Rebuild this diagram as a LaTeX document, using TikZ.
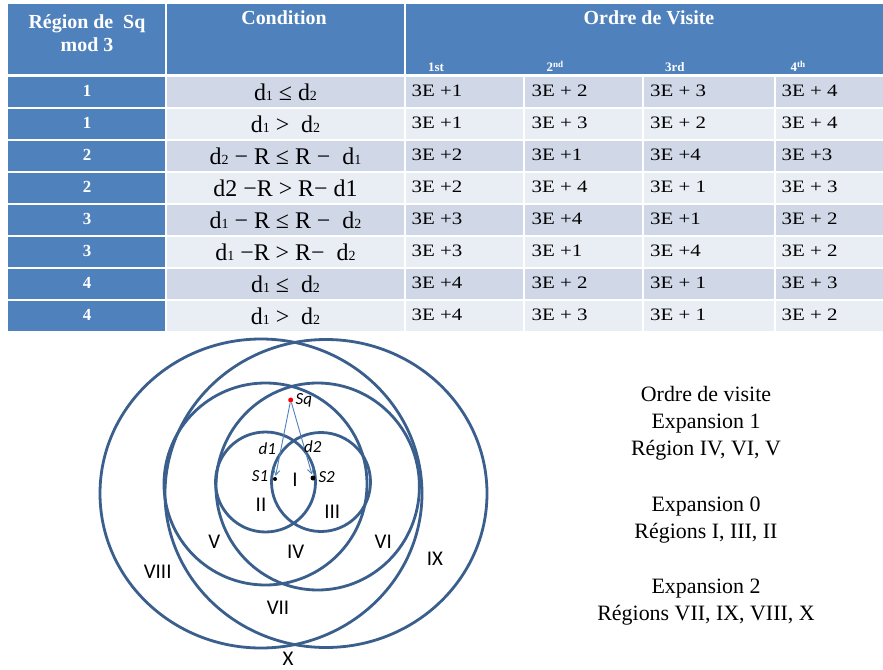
\documentclass[tikz,border=0pt]{standalone}
\usepackage{fontspec}
\setmainfont{Liberation Serif}
\newfontfamily\calib{Carlito}
\newfontfamily\numfont[FakeStretch=1.2]{Liberation Serif}
\usetikzlibrary{arrows.meta}

\definecolor{hdrblue}{HTML}{4F81BD}
\definecolor{rowdark}{HTML}{D0D8E8}
\definecolor{rowlight}{HTML}{E9EDF4}
\definecolor{ringblue}{HTML}{3A5F8C}
\definecolor{arrowblue}{HTML}{4F81BD}

\newcommand{\fs}[1]{\fontsize{#1}{#1}\selectfont}
% small index digit used in the conditions (d1, d2)
\newcommand{\ix}[1]{{\fs{14}#1}}

\tikzset{
  hdrtxt/.style={text=white, font=\fs{20}\bfseries, inner sep=0pt},
  subhdr/.style={text=white, font=\fs{13}\bfseries, inner sep=0pt, anchor=base west},
  regtxt/.style={text=white, font=\fs{17}\bfseries, inner sep=0pt, anchor=base},
  condtxt/.style={font=\fs{24}, inner sep=0pt, anchor=base},
  numtxt/.style={font=\numfont\fs{17.5}, inner sep=0pt, anchor=base west},
  sidetxt/.style={font=\fs{22}, inner sep=0pt, anchor=base},
  ring/.style={draw=ringblue, line width=2.8bp},
  roman/.style={font=\calib\fs{21}, inner sep=0pt},
  itlabel/.style={font=\calib\itshape\fs{17}, inner sep=0pt},
  pointdot/.style={circle, fill=#1, inner sep=0pt, minimum size=5bp},
  dist/.style={draw=arrowblue, line width=0.9bp, -{Straight Barb[length=5bp,width=6bp]}, shorten >=1bp}
}

\begin{document}
\begin{tikzpicture}[x=1bp, y=-1bp]
\useasboundingbox (0,0) rectangle (883,670);
\fill[white] (0,0) rectangle (883,670);

% ---------- table header ----------
\fill[hdrblue] (8,4) rectangle (165,74);
\fill[hdrblue] (167,4) rectangle (404,74);
\fill[hdrblue] (406,4) rectangle (883,74);
\node[hdrtxt, anchor=base] (hreg1) at (87,28.3) {Région de~~Sq};
\node[hdrtxt, anchor=base] (hreg2) at (87,51.5) {mod 3};
\node[hdrtxt, anchor=base] (hcond) at (284,25) {Condition};
\node[hdrtxt, anchor=base] (hordre) at (649,25) {Ordre de Visite};
\node[subhdr] (h1) at (428,72) {1st};
\node[subhdr] (h2) at (546.5,72) {2\textsuperscript{nd}};
\node[subhdr] (h3) at (665,72) {3rd};
\node[subhdr] (h4) at (790.5,72) {4\textsuperscript{th}};

% ---------- table body ----------
\foreach \reg/\cond/\oa/\ob/\oc/\od [count=\i] in {
  1/{d\ix1 ≤ d\ix2}/{3E +1}/{3E + 2}/{3E + 3}/{3E + 4},
  1/{d\ix1 >~~d\ix2}/{3E +1}/{3E + 3}/{3E + 2}/{3E + 4},
  2/{d\ix2 − R ≤ R −~~d\ix1}/{3E +2}/{3E +1}/{3E +4}/{3E +3},
  2/{d2 −R > R− d1}/{3E +2}/{3E + 4}/{3E + 1}/{3E + 3},
  3/{d\ix1 − R ≤ R −~~d\ix2}/{3E +3}/{3E +4}/{3E +1}/{3E + 2},
  3/{d\ix1 −R > R−~~d\ix2}/{3E +3}/{3E +1}/{3E +4}/{3E + 2},
  4/{d\ix1 ≤~~d\ix2}/{3E +4}/{3E + 2}/{3E + 1}/{3E + 3},
  4/{d\ix1 >~~d\ix2}/{3E +4}/{3E + 3}/{3E + 1}/{3E + 2}}{
  \pgfmathsetmacro\rtop{76+(\i-1)*31.95}
  \pgfmathsetmacro\rbot{\rtop+31.95}
  \ifodd\i \def\rowcol{rowdark}\else\def\rowcol{rowlight}\fi
  \fill[hdrblue] (8,\rtop+1) rectangle (165,\rbot-1);
  \fill[\rowcol] (167,\rtop+1) rectangle (404,\rbot-1);
  \fill[\rowcol] (406,\rtop+1) rectangle (523,\rbot-1);
  \fill[\rowcol] (525,\rtop+1) rectangle (642,\rbot-1);
  \fill[\rowcol] (644,\rtop+1) rectangle (774,\rbot-1);
  \fill[\rowcol] (776,\rtop+1) rectangle (883,\rbot-1);
  \node[regtxt] (reg-\i) at (87,\rtop+20.5) {\reg};
  \node[condtxt] (cond-\i) at (285.5,\rtop+24.5) {\cond};
  \node[numtxt] (ord-\i-1) at (411.5,\rtop+21) {\oa};
  \node[numtxt] (ord-\i-2) at (531.5,\rtop+21) {\ob};
  \node[numtxt] (ord-\i-3) at (650,\rtop+21) {\oc};
  \node[numtxt] (ord-\i-4) at (781.5,\rtop+21) {\od};
}

% ---------- expansion rings ----------
\draw[ring] (261,493.5) ellipse [x radius=161, y radius=154.5];
\draw[ring] (326,493.5) ellipse [x radius=161, y radius=154];
\draw[ring] (265.5,484) ellipse [x radius=101.5, y radius=101];
\draw[ring] (317.7,486.5) ellipse [x radius=101.7, y radius=103.5];
\draw[ring] (265.5,482) circle [radius=50];
\draw[ring] (321,482) circle [radius=49.5];

% ---------- query point and the two seeds ----------
\node[pointdot=black, minimum size=4bp] (S1) at (275,479) {};
\node[pointdot=black] (S2) at (313,478) {};
\node[pointdot=red] (Sq) at (290.7,400) {};
\draw[dist] (Sq) -- (S1);
\draw[dist] (Sq) -- (S2);

\node[itlabel, anchor=west] (lSq) at (295.5,400) {Sq};
\node[itlabel] (ld1) at (267.3,449) {d1};
\node[itlabel] (ld2) at (312.7,446.7) {d2};
\node[itlabel] (lS1) at (260,476) {S1};
\node[itlabel] (lS2) at (326.7,476.7) {S2};

% ---------- region names ----------
\node[roman] (rI) at (295,480) {I};
\node[roman] (rII) at (261,505) {II};
\node[roman] (rIII) at (332.3,511.7) {III};
\node[roman] (rIV) at (295.7,551.7) {IV};
\node[roman] (rV) at (214.3,541.7) {V};
\node[roman] (rVI) at (383.3,541.7) {VI};
\node[roman] (rVII) at (278,608) {VII};
\node[roman] (rVIII) at (157.7,571.7) {VIII};
\node[roman] (rIX) at (435,559) {IX};
\node[roman] (rX) at (288,659) {X};

% ---------- visiting order notes ----------
\node[sidetxt] (n1) at (706,401.5) {Ordre de visite};
\node[sidetxt] (n2) at (706,428.5) {Expansion 1};
\node[sidetxt] (n3) at (706,455.5) {Région IV, VI, V};
\node[sidetxt] (n4) at (706,511.5) {Expansion 0};
\node[sidetxt] (n5) at (706,538) {Régions I, III, II};
\node[sidetxt] (n6) at (706,593) {Expansion 2};
\node[sidetxt] (n7) at (706,620) {Régions VII, IX, VIII, X};
\end{tikzpicture}
\end{document}
